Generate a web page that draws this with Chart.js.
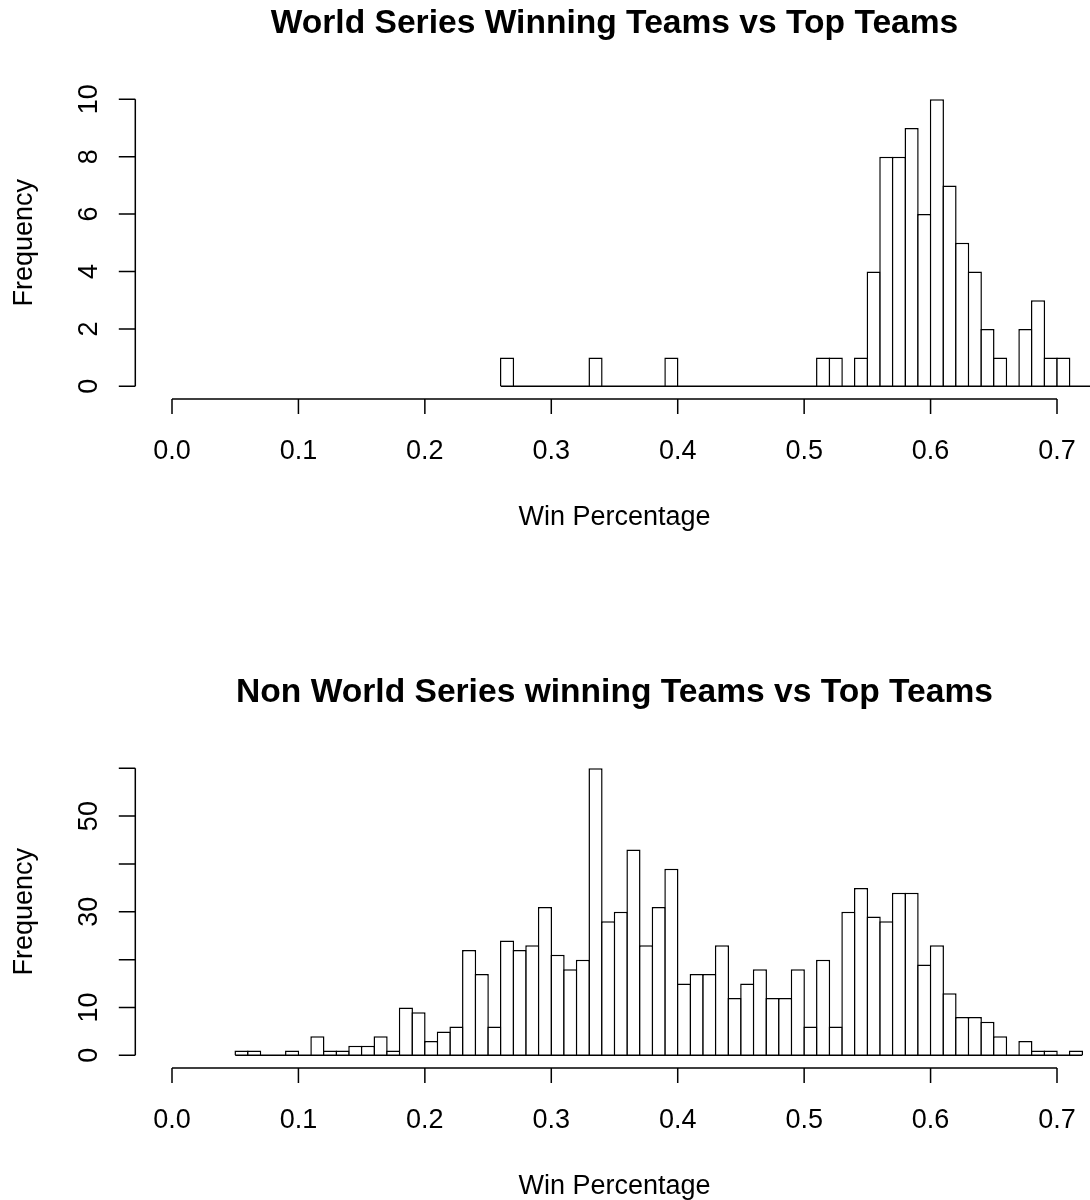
<!DOCTYPE html>
<html>
<head>
<meta charset="utf-8">
<script src="https://cdn.jsdelivr.net/npm/chart.js@4.4.1/dist/chart.umd.min.js"></script>
<style>
html,body{margin:0;padding:0;background:#fff;overflow:hidden;width:1090px;height:1200px;position:relative}
canvas{position:absolute;left:0}
</style>
</head>
<body>
<canvas id="c1" width="1093" height="600" style="top:0"></canvas>
<canvas id="c2" width="1093" height="600" style="top:600px"></canvas>
<script>
// ---- data ----
const titleTop = 'World Series Winning Teams vs Top Teams';
const titleBottom = 'Non World Series winning Teams vs Top Teams';
const xAxisTitle = 'Win Percentage';
const yAxisTitle = 'Frequency';
const binWidth = 0.01;

const binsTop = [0.26,0.27,0.28,0.29,0.30,0.31,0.32,0.33,0.34,0.35,0.36,0.37,0.38,0.39,
  0.40,0.41,0.42,0.43,0.44,0.45,0.46,0.47,0.48,0.49,0.50,0.51,0.52,0.53,0.54,0.55,
  0.56,0.57,0.58,0.59,0.60,0.61,0.62,0.63,0.64,0.65,0.66,0.67,0.68,0.69,0.70,0.71,0.72];
const countsTop = [1,0,0,0,0,0,0,1,0,0,0,0,0,1,
  0,0,0,0,0,0,0,0,0,0,0,1,1,0,1,4,
  8,8,9,6,10,7,5,4,2,1,0,2,3,1,1,0,0];

const binsBottom = [0.05,0.06,0.07,0.08,0.09,0.10,0.11,0.12,0.13,0.14,0.15,0.16,0.17,0.18,0.19,
  0.20,0.21,0.22,0.23,0.24,0.25,0.26,0.27,0.28,0.29,0.30,0.31,0.32,0.33,0.34,0.35,0.36,0.37,0.38,0.39,
  0.40,0.41,0.42,0.43,0.44,0.45,0.46,0.47,0.48,0.49,0.50,0.51,0.52,0.53,0.54,0.55,0.56,0.57,0.58,0.59,
  0.60,0.61,0.62,0.63,0.64,0.65,0.66,0.67,0.68,0.69,0.70,0.71];
const countsBottom = [1,1,0,0,1,0,4,1,1,2,2,4,1,10,9,
  3,5,6,22,17,6,24,22,23,31,21,18,20,60,28,30,43,23,31,39,
  15,17,17,23,12,15,18,12,12,18,6,20,6,30,35,29,28,34,34,19,
  23,13,8,8,7,4,0,3,1,1,0,1];

const xTickValues = [0.0,0.1,0.2,0.3,0.4,0.5,0.6,0.7];
const xTickLabels = ['0.0','0.1','0.2','0.3','0.4','0.5','0.6','0.7'];
const yTickValuesTop = [0,2,4,6,8,10];
const yTickLabelsTop = ['0','2','4','6','8','10'];
const yTickValuesBottom = [0,10,20,30,40,50,60];
const yTickLabelsBottom = ['0','10','','30','','50',''];

const FONT = '"Liberation Sans", Arial, Helvetica, sans-serif';
const LW = 1.5;

const rAxes = {
  id: 'rAxes',
  afterDraw(chart, args, o) {
    const ctx = chart.ctx, ca = chart.chartArea;
    const xs = chart.scales.x, ys = chart.scales.y;
    ctx.save();
    ctx.strokeStyle = '#000';
    ctx.fillStyle = '#000';
    ctx.lineWidth = LW;
    const tl = 15;
    const axY = ca.bottom + 1.2;
    const axX = ca.left - 1.3;
    // x axis
    ctx.beginPath();
    ctx.moveTo(xs.getPixelForValue(xTickValues[0]), axY);
    ctx.lineTo(xs.getPixelForValue(xTickValues[xTickValues.length - 1]), axY);
    xTickValues.forEach(v => {
      const px = xs.getPixelForValue(v);
      ctx.moveTo(px, axY); ctx.lineTo(px, axY + tl);
    });
    // y axis
    const yv = o.yTicks;
    ctx.moveTo(axX, ys.getPixelForValue(yv[0]));
    ctx.lineTo(axX, ys.getPixelForValue(yv[yv.length - 1]));
    yv.forEach(v => {
      const py = ys.getPixelForValue(v);
      ctx.moveTo(axX, py); ctx.lineTo(axX - tl - 1.5, py);
    });
    ctx.stroke();

    ctx.font = '27px ' + FONT;
    ctx.textAlign = 'center';
    ctx.textBaseline = 'alphabetic';
    xTickValues.forEach((v, i) => ctx.fillText(xTickLabels[i], xs.getPixelForValue(v), ca.bottom + 61));
    const midX = (ca.left + ca.right) / 2;
    ctx.fillText(xAxisTitle, midX, ca.bottom + 127);

    yv.forEach((v, i) => {
      if (!o.yLabels[i]) return;
      ctx.save();
      ctx.translate(ca.left - 39.6, ys.getPixelForValue(v));
      ctx.rotate(-Math.PI / 2);
      ctx.fillText(o.yLabels[i], 0, 0);
      ctx.restore();
    });
    ctx.save();
    ctx.translate(ca.left - 104.6, (ca.top + ca.bottom) / 2);
    ctx.rotate(-Math.PI / 2);
    ctx.fillText(yAxisTitle, 0, 0);
    ctx.restore();

    ctx.font = 'bold 33.6px ' + FONT;
    ctx.fillText(o.title, midX, ca.top - 54.5);
    ctx.restore();
  }
};

function makeHist(canvasId, bins, counts, yMin, yMax, padTop, padBottom, yTicks, yLabels, title) {
  const barData = bins.map((b, i) => ({ x: b + binWidth / 2, y: counts[i] }));
  const baseData = [{ x: bins[0], y: 0 }, { x: bins[bins.length - 1] + binWidth, y: 0 }];
  const binPx = 12.643;
  return new Chart(document.getElementById(canvasId), {
    type: 'bar',
    data: {
      datasets: [
        {
          type: 'bar',
          data: barData,
          backgroundColor: '#ffffff',
          borderColor: '#000000',
          borderWidth: LW,
          borderSkipped: 'start',
          barPercentage: (binPx + LW) / binPx,
          categoryPercentage: 1,
          order: 2
        },
        {
          type: 'line',
          data: baseData,
          borderColor: '#000000',
          borderWidth: LW,
          pointRadius: 0,
          fill: false,
          order: 1
        }
      ]
    },
    options: {
      responsive: false,
      animation: false,
      events: [],
      layout: { padding: { left: 136.6, right: 0.6, top: padTop, bottom: padBottom } },
      plugins: {
        legend: { display: false },
        tooltip: { enabled: false },
        title: { display: false },
        rAxes: { yTicks: yTicks, yLabels: yLabels, title: title }
      },
      scales: {
        x: { type: 'linear', min: -0.028, max: 0.728, offset: false, display: false },
        y: { type: 'linear', min: yMin, max: yMax, display: false }
      }
    },
    plugins: [rAxes]
  });
}

makeHist('c1', binsTop, countsTop, -0.4, 10.4, 87.8, 202.2, yTickValuesTop, yTickLabelsTop, titleTop);
makeHist('c2', binsBottom, countsBottom, -2.4, 62.4, 156.8, 133.2, yTickValuesBottom, yTickLabelsBottom, titleBottom);
</script>
</body>
</html>
